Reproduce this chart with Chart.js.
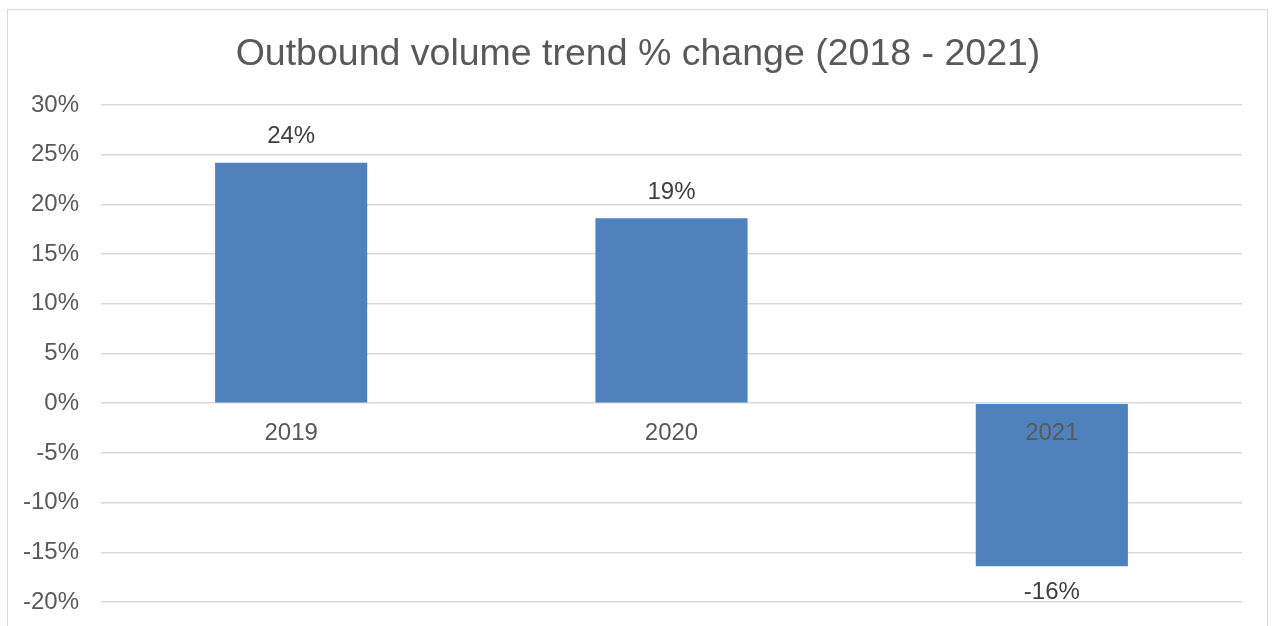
<!DOCTYPE html>
<html>
<head>
<meta charset="utf-8">
<script src="https://cdn.jsdelivr.net/npm/chart.js@4.4.0/dist/chart.umd.min.js"></script>
<style>
  html, body { margin: 0; padding: 0; background: #fff; overflow: hidden; }
  #wrap { position: relative; width: 1276px; height: 626px; }
  #frame { position: absolute; left: 7px; top: 9px; width: 1261px; height: 640px; border: 1.5px solid #d9d9d9; box-sizing: border-box; pointer-events: none; }
  canvas { position: absolute; left: 0; top: 0; }
</style>
</head>
<body>
<div id="wrap">
  <canvas id="c" width="1276" height="626"></canvas>
  <div id="frame"></div>
</div>
<script>
const categories = ['2019', '2020', '2021'];
const changePct = [24.2, 18.6, -16.4];
const valueLabels = ['24%', '19%', '-16%'];
const yTicks = [30, 25, 20, 15, 10, 5, 0, -5, -10, -15, -20];

const FONT = "'Liberation Sans', Arial, sans-serif";

const dataLabelPlugin = {
  id: 'dataLabels',
  afterDatasetsDraw(chart) {
    const ctx = chart.ctx;
    const meta = chart.getDatasetMeta(0);
    ctx.save();
    ctx.font = '24px ' + FONT;
    ctx.fillStyle = '#404040';
    ctx.textAlign = 'center';
    ctx.textBaseline = 'middle';
    meta.data.forEach((bar, i) => {
      const v = changePct[i];
      const y = v >= 0 ? bar.y - 26 : bar.y + 26;
      ctx.fillText(valueLabels[i], bar.x, y);
    });
    ctx.restore();
  }
};

new Chart(document.getElementById('c'), {
  type: 'bar',
  data: {
    labels: categories,
    datasets: [{
      data: changePct,
      backgroundColor: '#4f81bd',
      borderWidth: 0,
      categoryPercentage: 1.0,
      barPercentage: 0.4
    }]
  },
  options: {
    responsive: false,
    animation: false,
    layout: { padding: { left: 0, right: 0, top: 0, bottom: 24 } },
    plugins: {
      legend: { display: false },
      tooltip: { enabled: false },
      title: {
        display: true,
        text: 'Outbound volume trend % change (2018 - 2021)',
        color: '#595959',
        font: { family: FONT, size: 37.5, weight: 'normal' },
        padding: { top: 32, bottom: 28 }
      }
    },
    scales: {
      x: {
        position: { y: 0 },
        afterFit(scale) { scale.height = 0; },
        grid: { display: false, drawTicks: false },
        border: { display: false },
        ticks: { z: 1, color: '#595959', font: { family: FONT, size: 24 }, padding: 16 }
      },
      y: {
        min: -20,
        max: 30,
        afterBuildTicks(scale) { scale.ticks = yTicks.map(v => ({ value: v })); },
        afterFit(scale) { scale.width = 101; scale.paddingTop = 0; scale.paddingBottom = 0; },
        grid: { color: '#d9d9d9', lineWidth: 1.5, drawTicks: false },
        border: { display: false },
        ticks: {
          color: '#595959',
          font: { family: FONT, size: 24 },
          padding: 22,
          callback: v => v + '%'
        }
      },
      yRight: {
        position: 'right',
        min: -20,
        max: 30,
        grid: { display: false, drawTicks: false },
        border: { display: false },
        ticks: { display: false },
        afterFit(scale) { scale.width = 34; scale.paddingTop = 0; scale.paddingBottom = 0; }
      }
    }
  },
  plugins: [dataLabelPlugin]
});
</script>
</body>
</html>
